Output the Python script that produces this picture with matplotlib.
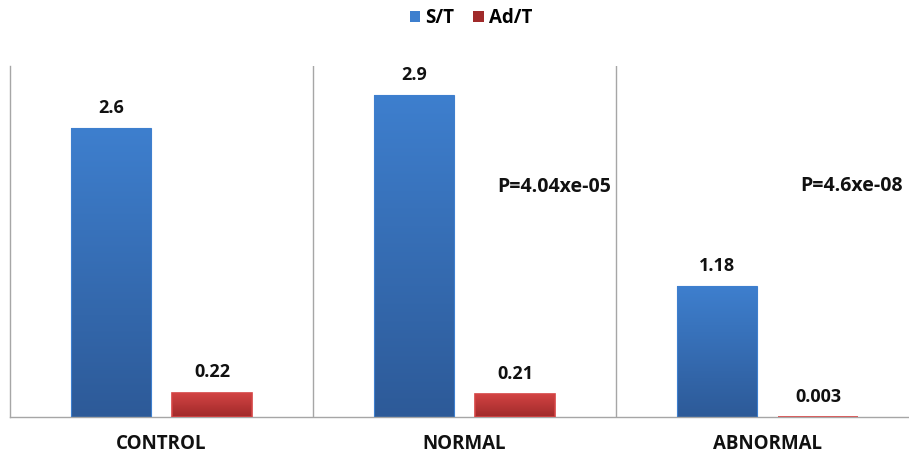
import matplotlib
matplotlib.use("Agg")
import matplotlib.pyplot as plt
import numpy as np
from matplotlib.colors import LinearSegmentedColormap
from matplotlib.patches import Patch

categories = ["CONTROL", "NORMAL", "ABNORMAL"]
st_values = [2.6, 2.9, 1.18]
adt_values = [0.22, 0.21, 0.003]
st_labels = ["2.6", "2.9", "1.18"]
adt_labels = ["0.22", "0.21", "0.003"]
series_names = ["S/T", "Ad/T"]
p_texts = ["P=4.04xe-05", "P=4.6xe-08"]
p_positions = [(1.295, 2.07), (2.276, 2.08)]

plt.rcParams['font.family'] = ['Open Sans', 'DejaVu Sans']
plt.rcParams['font.weight'] = 'bold'

W, H = 909, 454
fig = plt.figure(figsize=(W / 100, H / 100), dpi=100)
ax = fig.add_axes([10 / W, (H - 417) / H, (W - 10) / W, (417 - 66) / H])

x = np.arange(len(categories))
bw = 0.264
off = 0.167
blue_top, blue_bot = "#3e7fce", "#2d5a98"
red_top, red_bot = "#d44444", "#a02a2a"

ymax = 351 / 111.0

def grad_bars(xs, vals, top, bot, lw):
    bars = ax.bar(xs, vals, bw, color=bot, edgecolor=top, linewidth=lw, zorder=2)
    cmap = LinearSegmentedColormap.from_list("g", [bot, top])
    grad = np.linspace(0, 1, 256).reshape(-1, 1)
    for b in bars:
        x0, y0 = b.get_x(), b.get_y()
        w, h = b.get_width(), b.get_height()
        im = ax.imshow(grad, extent=[x0, x0 + w, y0, y0 + h], origin="lower",
                       cmap=cmap, aspect="auto", zorder=1.5)
        im.set_clip_path(b)
    return bars

b1 = grad_bars(x - off, st_values, blue_top, blue_bot, 0.8)
b2 = grad_bars(x + off, adt_values, red_top, red_bot, 1.2)
for b in list(b1) + list(b2):
    b.set_facecolor("none")
    b.set_zorder(3)
ax.set_xlim(-0.5, -0.5 + (W - 10) / 303)
ax.set_ylim(0, ymax)

txt = dict(ha="center", va="center", fontsize=13, fontweight="bold", color="#111111")
for xi, v, lab in zip(x - off, st_values, st_labels):
    ax.annotate(lab, (xi, v), xytext=(0, 14.5), textcoords="offset points", **txt)
for xi, v, lab in zip(x + off, adt_values, adt_labels):
    ax.annotate(lab, (xi, v), xytext=(0, 14.5), textcoords="offset points", **txt)

ptxt = dict(txt, fontsize=14)
for t, (px, py) in zip(p_texts, p_positions):
    ax.text(px, py, t, **ptxt)

for xi, c in zip(x, categories):
    ax.text(xi, -27 / 111.0, c, ha="center", va="center", fontsize=13.5,
            fontweight="bold", color="#111111", clip_on=False)

for sep in [0.5, 1.5]:
    ax.axvline(sep, color="#a6a6a6", lw=1, zorder=1)

for s in ["top", "right"]:
    ax.spines[s].set_visible(False)
for s in ["left", "bottom"]:
    ax.spines[s].set_color("#a6a6a6")
    ax.spines[s].set_linewidth(1)
ax.set_xticks([])
ax.set_yticks([])

handles = [Patch(facecolor=blue_top, edgecolor="none"), Patch(facecolor=red_bot, edgecolor="none")]
fig.legend(handles, series_names, loc="center", bbox_to_anchor=(471 / W, 1 - 18 / H),
           ncol=2, frameon=False, handlelength=0.55, handleheight=0.55,
           handletextpad=0.3, columnspacing=1.0, prop={'weight': 'bold', 'size': 13.5})

fig.savefig("out.png", dpi=100)
